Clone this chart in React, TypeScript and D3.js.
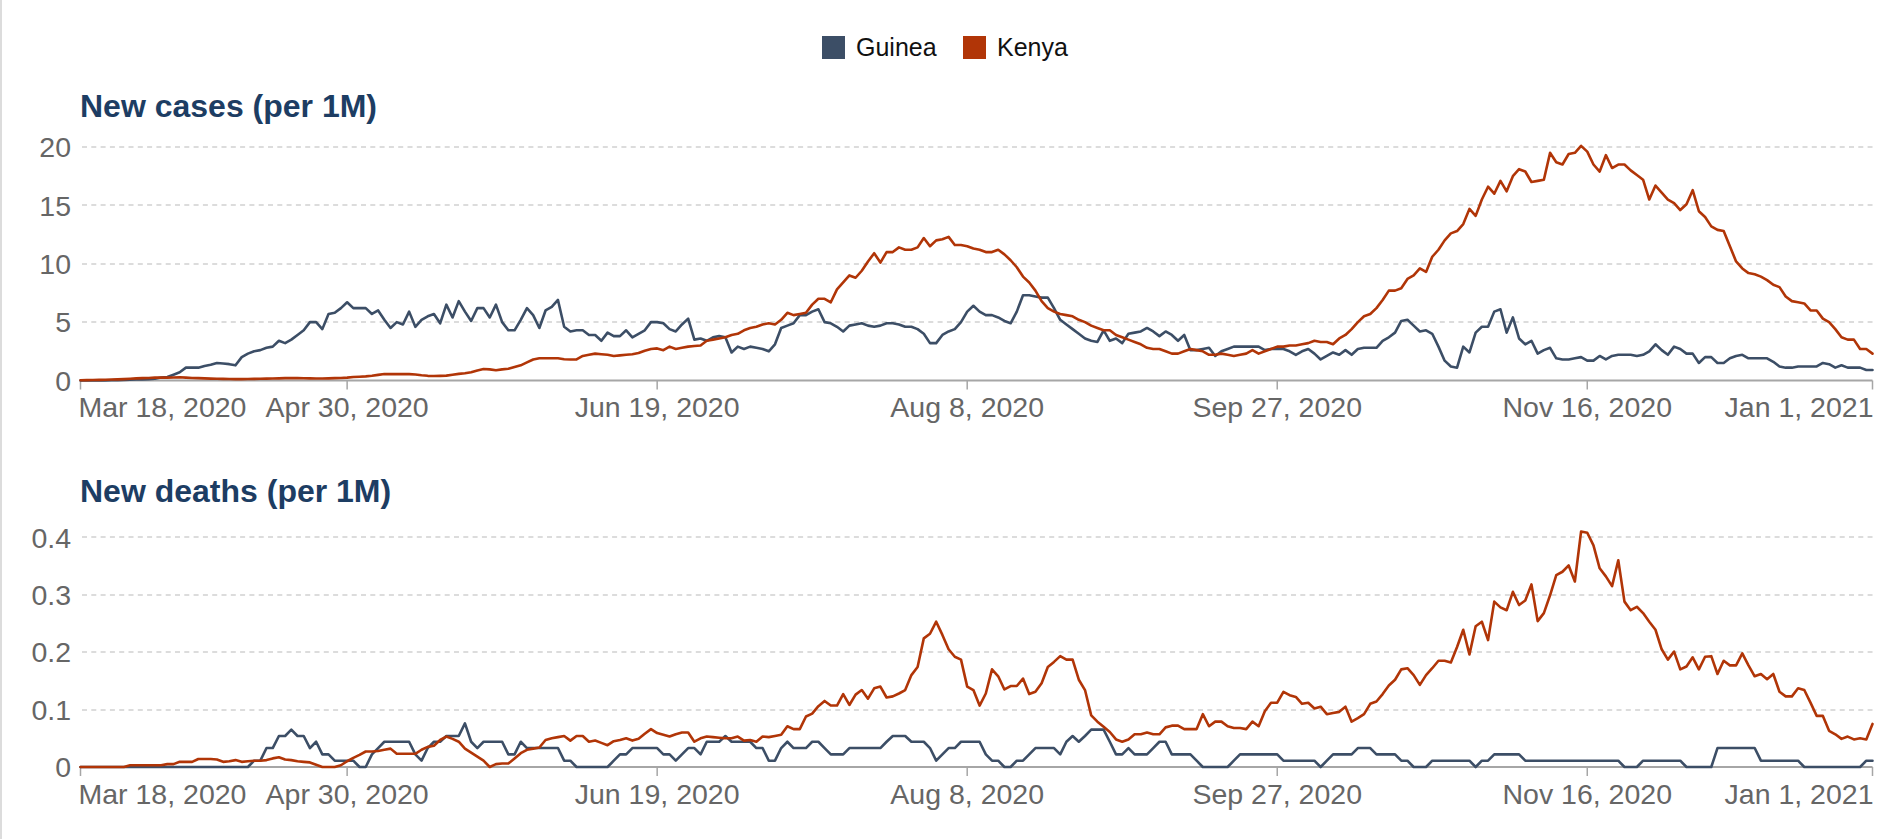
import React from "react";
import * as d3 from "d3";

// ---------- DATA ----------
const startDate = new Date(2020, 2, 18); // Mar 18, 2020 (one value per day)
const endDate = new Date(2021, 0, 1);

const seriesNames = ["Guinea", "Kenya"];
const seriesColors = ["#3c4e66", "#b13507"];

const guineaCases = [
  0, 0, 0, 0, 0, 0.02, 0.03, 0.05, 0.06, 0.08,
  0.1, 0.12, 0.15, 0.25, 0.3, 0.5, 0.7, 1.1, 1.1, 1.1,
  1.25, 1.35, 1.5, 1.45, 1.4, 1.3, 2.0, 2.3, 2.5, 2.6,
  2.8, 2.9, 3.4, 3.2, 3.5, 3.9, 4.3, 5.0, 5.0, 4.4,
  5.7, 5.8, 6.2, 6.7, 6.2, 6.2, 6.2, 5.7, 6.0, 5.2,
  4.5, 5.0, 4.8, 5.9, 4.6, 5.2, 5.5, 5.7, 4.9, 6.5,
  5.4, 6.8, 5.9, 5.1, 6.2, 6.2, 5.4, 6.5, 5.0, 4.3,
  4.3, 5.2, 6.2, 5.6, 4.5, 6.0, 6.3, 6.9, 4.6, 4.2,
  4.3, 4.3, 3.9, 3.9, 3.4, 4.1, 3.8, 3.8, 4.3, 3.7,
  4.0, 4.3, 5.0, 5.0, 4.9, 4.4, 4.2, 4.8, 5.3, 3.5,
  3.6, 3.4, 3.7, 3.8, 3.7, 2.4, 2.9, 2.7, 2.9, 2.8,
  2.7, 2.5, 3.1, 4.5, 4.7, 4.9, 5.6, 5.6, 5.9, 6.1,
  5.0, 4.9, 4.6, 4.2, 4.7, 4.8, 4.9, 4.7, 4.6, 4.7,
  4.9, 4.9, 4.8, 4.6, 4.6, 4.4, 4.0, 3.2, 3.2, 3.9,
  4.2, 4.4, 5.0, 5.9, 6.4, 5.9, 5.6, 5.6, 5.4, 5.1,
  4.9, 5.9, 7.3, 7.3, 7.2, 7.1, 7.1, 6.2, 5.2, 4.8,
  4.4, 4.0, 3.6, 3.4, 3.3, 4.3, 3.4, 3.6, 3.2, 4.0,
  4.1, 4.2, 4.5, 4.2, 3.8, 4.2, 3.9, 3.4, 3.9, 2.6,
  2.6, 2.7, 2.8, 2.1, 2.5, 2.7, 2.9, 2.9, 2.9, 2.9,
  2.9, 2.6, 2.7, 2.7, 2.7, 2.5, 2.2, 2.5, 2.7, 2.3,
  1.8, 2.1, 2.4, 2.2, 2.6, 2.2, 2.7, 2.8, 2.8, 2.8,
  3.4, 3.7, 4.1, 5.1, 5.2, 4.7, 4.2, 4.3, 4.0, 2.9,
  1.7, 1.2, 1.1, 2.9, 2.4, 4.1, 4.6, 4.6, 5.9, 6.1,
  4.1, 5.4, 3.6, 3.1, 3.4, 2.3, 2.6, 2.8, 1.9, 1.8,
  1.8, 1.9, 2.0, 1.7, 1.7, 2.1, 1.8, 2.1, 2.2, 2.2,
  2.2, 2.1, 2.2, 2.5, 3.1, 2.6, 2.2, 2.9, 2.7, 2.3,
  2.3, 1.5, 2.0, 2.0, 1.5, 1.5, 1.9, 2.1, 2.2, 1.9,
  1.9, 1.9, 1.9, 1.6, 1.2, 1.1, 1.1, 1.2, 1.2, 1.2,
  1.2, 1.5, 1.4, 1.1, 1.3, 1.1, 1.1, 1.1, 0.9, 0.9,
];

const kenyaCases = [
  0.02, 0.03, 0.04, 0.05, 0.06, 0.08, 0.1, 0.12, 0.15, 0.18,
  0.2, 0.22, 0.25, 0.25, 0.25, 0.26, 0.28, 0.25, 0.22, 0.2,
  0.18, 0.16, 0.15, 0.14, 0.13, 0.12, 0.12, 0.13, 0.14, 0.15,
  0.16, 0.17, 0.18, 0.2, 0.2, 0.2, 0.19, 0.18, 0.17, 0.17,
  0.18, 0.2, 0.22, 0.25, 0.3, 0.32, 0.35, 0.4, 0.48, 0.55,
  0.55, 0.55, 0.55, 0.55, 0.52, 0.45, 0.4, 0.38, 0.4, 0.42,
  0.5, 0.57, 0.62, 0.7, 0.85, 0.98, 0.95, 0.88, 0.95, 1.0,
  1.15, 1.3, 1.55, 1.8, 1.9, 1.9, 1.9, 1.9, 1.82, 1.8,
  1.8, 2.1, 2.2, 2.3, 2.25, 2.2, 2.1, 2.15, 2.2, 2.25,
  2.35, 2.55, 2.7, 2.75, 2.6, 2.9, 2.7, 2.8, 2.9, 2.95,
  3.0, 3.4, 3.5, 3.6, 3.7, 3.9, 4.0, 4.3, 4.5, 4.6,
  4.8, 4.9, 4.8, 5.2, 5.8, 5.6, 5.7, 5.8, 6.5, 7.0,
  7.0, 6.7, 7.8, 8.4, 9.0, 8.8, 9.4, 10.2, 10.9, 10.1,
  11.0, 11.0, 11.4, 11.2, 11.2, 11.4, 12.2, 11.5, 12.0, 12.1,
  12.3, 11.6, 11.6, 11.5, 11.3, 11.2, 11.0, 11.0, 11.2, 10.8,
  10.3, 9.7, 8.9, 8.4, 7.7, 6.8, 6.2, 5.9, 5.7, 5.6,
  5.5, 5.2, 5.0, 4.7, 4.5, 4.3, 4.3, 3.9, 3.7, 3.5,
  3.3, 3.1, 2.8, 2.7, 2.7, 2.5, 2.3, 2.3, 2.5, 2.7,
  2.6, 2.5, 2.2, 2.2, 2.3, 2.2, 2.1, 2.2, 2.3, 2.6,
  2.3, 2.5, 2.7, 2.9, 2.9, 3.0, 3.0, 3.1, 3.2, 3.4,
  3.3, 3.3, 3.1, 3.6, 3.9, 4.4, 5.0, 5.5, 5.7, 6.2,
  6.9, 7.7, 7.7, 7.9, 8.7, 9.0, 9.6, 9.3, 10.6, 11.2,
  12.0, 12.6, 12.8, 13.4, 14.7, 14.1, 15.5, 16.6, 16.0, 17.1,
  16.2, 17.5, 18.1, 17.9, 17.0, 17.1, 17.2, 19.5, 18.7, 18.5,
  19.4, 19.5, 20.1, 19.6, 18.5, 17.9, 19.3, 18.2, 18.5, 18.5,
  18.0, 17.6, 17.2, 15.5, 16.7, 16.1, 15.5, 15.2, 14.6, 15.1,
  16.3, 14.5, 14.0, 13.2, 12.9, 12.8, 11.5, 10.2, 9.6, 9.2,
  9.1, 8.9, 8.6, 8.2, 8.0, 7.2, 6.8, 6.7, 6.6, 6.0,
  6.0, 5.3, 5.0, 4.4, 3.7, 3.5, 3.5, 2.7, 2.7, 2.3,
];

const guineaDeaths = [
  0, 0, 0, 0, 0, 0, 0, 0, 0, 0,
  0, 0, 0, 0, 0, 0, 0, 0, 0, 0,
  0, 0, 0, 0, 0, 0, 0, 0, 0.011, 0.011,
  0.033, 0.033, 0.054, 0.054, 0.065, 0.054, 0.054, 0.033, 0.044, 0.022,
  0.022, 0.011, 0.011, 0.011, 0.011, 0, 0, 0.022, 0.033, 0.044,
  0.044, 0.044, 0.044, 0.044, 0.022, 0.011, 0.033, 0.044, 0.044, 0.054,
  0.054, 0.054, 0.076, 0.044, 0.033, 0.044, 0.044, 0.044, 0.044, 0.022,
  0.022, 0.044, 0.033, 0.033, 0.033, 0.033, 0.033, 0.033, 0.011, 0.011,
  0, 0, 0, 0, 0, 0, 0.011, 0.022, 0.022, 0.033,
  0.033, 0.033, 0.033, 0.033, 0.022, 0.022, 0.011, 0.022, 0.033, 0.033,
  0.022, 0.044, 0.044, 0.044, 0.054, 0.044, 0.044, 0.044, 0.044, 0.033,
  0.033, 0.011, 0.011, 0.033, 0.044, 0.033, 0.033, 0.033, 0.044, 0.044,
  0.033, 0.022, 0.022, 0.022, 0.033, 0.033, 0.033, 0.033, 0.033, 0.033,
  0.044, 0.054, 0.054, 0.054, 0.044, 0.044, 0.044, 0.033, 0.011, 0.022,
  0.033, 0.033, 0.044, 0.044, 0.044, 0.044, 0.022, 0.011, 0.011, 0,
  0, 0.011, 0.011, 0.022, 0.033, 0.033, 0.033, 0.033, 0.022, 0.044,
  0.054, 0.044, 0.054, 0.065, 0.065, 0.065, 0.044, 0.022, 0.022, 0.033,
  0.022, 0.022, 0.022, 0.033, 0.044, 0.044, 0.022, 0.022, 0.022, 0.022,
  0.011, 0, 0, 0, 0, 0, 0.011, 0.022, 0.022, 0.022,
  0.022, 0.022, 0.022, 0.022, 0.011, 0.011, 0.011, 0.011, 0.011, 0.011,
  0, 0.011, 0.022, 0.022, 0.022, 0.022, 0.033, 0.033, 0.033, 0.022,
  0.022, 0.022, 0.022, 0.011, 0.011, 0, 0, 0, 0.011, 0.011,
  0.011, 0.011, 0.011, 0.011, 0.011, 0, 0.011, 0.011, 0.022, 0.022,
  0.022, 0.022, 0.022, 0.011, 0.011, 0.011, 0.011, 0.011, 0.011, 0.011,
  0.011, 0.011, 0.011, 0.011, 0.011, 0.011, 0.011, 0.011, 0.011, 0,
  0, 0, 0.011, 0.011, 0.011, 0.011, 0.011, 0.011, 0.011, 0,
  0, 0, 0, 0, 0.033, 0.033, 0.033, 0.033, 0.033, 0.033,
  0.033, 0.011, 0.011, 0.011, 0.011, 0.011, 0.011, 0.011, 0, 0,
  0, 0, 0, 0, 0, 0, 0, 0, 0.011, 0.011,
];

const kenyaDeaths = [
  0, 0, 0, 0, 0, 0, 0, 0, 0.003, 0.003,
  0.003, 0.003, 0.003, 0.003, 0.005, 0.005, 0.009, 0.009, 0.009, 0.014,
  0.014, 0.014, 0.013, 0.009, 0.01, 0.012, 0.009, 0.01, 0.011, 0.011,
  0.012, 0.015, 0.017, 0.013, 0.012, 0.01, 0.009, 0.008, 0.004, 0,
  0, 0, 0.003, 0.01, 0.016, 0.021, 0.027, 0.027, 0.028, 0.03,
  0.032, 0.023, 0.023, 0.023, 0.023, 0.03, 0.035, 0.037, 0.047, 0.053,
  0.049, 0.044, 0.032, 0.025, 0.018, 0.011, 0, 0.005, 0.006, 0.006,
  0.015, 0.024, 0.03, 0.032, 0.034, 0.047, 0.05, 0.052, 0.054, 0.046,
  0.054, 0.054, 0.044, 0.046, 0.042, 0.038, 0.045, 0.047, 0.05, 0.046,
  0.049, 0.058, 0.066, 0.059, 0.056, 0.053, 0.057, 0.06, 0.06, 0.044,
  0.05, 0.053, 0.052, 0.051, 0.05, 0.05, 0.053, 0.046, 0.047, 0.044,
  0.053, 0.052, 0.054, 0.056, 0.071, 0.066, 0.066, 0.088, 0.093, 0.106,
  0.115, 0.107, 0.107, 0.127, 0.108, 0.126, 0.134, 0.119, 0.137, 0.14,
  0.121, 0.123, 0.128, 0.134, 0.16, 0.174, 0.224, 0.232, 0.253, 0.23,
  0.205, 0.192, 0.187, 0.14, 0.134, 0.107, 0.128, 0.17, 0.158, 0.135,
  0.141, 0.141, 0.154, 0.127, 0.131, 0.146, 0.174, 0.183, 0.193, 0.187,
  0.187, 0.152, 0.134, 0.09, 0.079, 0.07, 0.061, 0.048, 0.044, 0.048,
  0.057, 0.057, 0.06, 0.057, 0.057, 0.069, 0.072, 0.072, 0.066, 0.066,
  0.066, 0.092, 0.071, 0.079, 0.079, 0.071, 0.068, 0.068, 0.066, 0.079,
  0.071, 0.097, 0.112, 0.112, 0.131, 0.125, 0.122, 0.11, 0.112, 0.102,
  0.105, 0.092, 0.094, 0.096, 0.105, 0.079, 0.085, 0.092, 0.11, 0.114,
  0.127, 0.142, 0.152, 0.17, 0.172, 0.16, 0.143, 0.16, 0.172, 0.185,
  0.185, 0.182, 0.209, 0.239, 0.196, 0.245, 0.253, 0.221, 0.288, 0.278,
  0.273, 0.305, 0.282, 0.29, 0.318, 0.254, 0.268, 0.299, 0.334, 0.34,
  0.351, 0.323, 0.41, 0.408, 0.386, 0.346, 0.332, 0.315, 0.36, 0.288,
  0.273, 0.279, 0.268, 0.253, 0.239, 0.205, 0.187, 0.201, 0.17, 0.175,
  0.191, 0.17, 0.192, 0.193, 0.162, 0.185, 0.177, 0.177, 0.198, 0.177,
  0.158, 0.162, 0.153, 0.162, 0.131, 0.123, 0.123, 0.137, 0.134, 0.112,
  0.089, 0.089, 0.063, 0.057, 0.049, 0.053, 0.048, 0.05, 0.048, 0.075,
];

const tickDates = [
  new Date(2020, 2, 18),
  new Date(2020, 3, 30),
  new Date(2020, 5, 19),
  new Date(2020, 7, 8),
  new Date(2020, 8, 27),
  new Date(2020, 10, 16),
  new Date(2021, 0, 1),
];
const tickLabels = [
  "Mar 18, 2020",
  "Apr 30, 2020",
  "Jun 19, 2020",
  "Aug 8, 2020",
  "Sep 27, 2020",
  "Nov 16, 2020",
  "Jan 1, 2021",
];
const casesTicks = [0, 5, 10, 15, 20];
const deathsTicks = [0, 0.1, 0.2, 0.3, 0.4];

// ---------- LAYOUT ----------
const W = 1904;
const H = 839;
const FONT = "'Liberation Sans', Arial, Helvetica, sans-serif";
const X0 = 80.5;
const X1 = 1872.5;

const xScale = d3.scaleTime().domain([startDate, endDate]).range([X0, X1]);

type PanelProps = {
  title: string;
  titleY: number;
  series: number[][];
  ticks: number[];
  yDomain: [number, number];
  yRange: [number, number];
};

function Panel({ title, titleY, series, ticks, yDomain, yRange }: PanelProps) {
  const y = d3.scaleLinear().domain(yDomain).range(yRange);
  const line = d3
    .line<number>()
    .x((_, i) => xScale(d3.timeDay.offset(startDate, i)))
    .y((v) => y(v));
  const base = y(0);
  return (
    <g>
      <text
        x={80}
        y={titleY}
        fontFamily={FONT}
        fontWeight="bold"
        fontSize={32}
        fill="#1d3d63"
      >
        {title}
      </text>
      {ticks.map((t) => (
        <g key={t}>
          {t !== 0 && (
            <line
              x1={82}
              x2={X1}
              y1={Math.round(y(t))}
              y2={Math.round(y(t))}
              stroke="#dcdcdc"
              strokeWidth={2}
              strokeDasharray="5,4.3"
            />
          )}
          <text
            x={71}
            y={y(t)}
            dy="0.36em"
            textAnchor="end"
            fontFamily={FONT}
            fontSize={28.5}
            fill="#666"
          >
            {String(t)}
          </text>
        </g>
      ))}
      <line x1={X0} x2={X1} y1={base} y2={base} stroke="#a6a6a6" strokeWidth={2} />
      {tickDates.map((d, i) => {
        const tx = xScale(d);
        const anchor = i === 0 ? "start" : i === tickDates.length - 1 ? "end" : "middle";
        const lx = i === 0 ? tx - 2 : i === tickDates.length - 1 ? tx + 1 : tx;
        return (
          <g key={i}>
            <line x1={tx} x2={tx} y1={base} y2={base + 9} stroke="#a6a6a6" strokeWidth={1.5} />
            <text
              x={lx}
              y={base + 36.5}
              textAnchor={anchor}
              fontFamily={FONT}
              fontSize={28.5}
              fill="#666"
            >
              {tickLabels[i]}
            </text>
          </g>
        );
      })}
      {series.map((s, k) => (
        <path
          key={k}
          d={line(s) || ""}
          fill="none"
          stroke={seriesColors[k]}
          strokeWidth={2.6}
          strokeLinejoin="round"
          strokeLinecap="round"
        />
      ))}
    </g>
  );
}

export default function App() {
  const legendX = [822, 963];
  return (
    <div style={{ position: "absolute", left: 0, top: 0, width: W, height: H, background: "#fff" }}>
      <svg width={W} height={H} style={{ display: "block" }}>
        <rect x={0} y={0} width={W} height={H} fill="#fff" />
        <line x1={1} x2={1} y1={0} y2={H} stroke="#d0d0d0" strokeWidth={1.5} />
        {seriesNames.map((n, i) => (
          <g key={n}>
            <rect x={legendX[i]} y={36} width={23} height={23} fill={seriesColors[i]} />
            <text
              x={legendX[i] + 34}
              y={56}
              fontFamily={FONT}
              fontSize={25}
              fill="#111"
            >
              {n}
            </text>
          </g>
        ))}
        <Panel
          title="New cases (per 1M)"
          titleY={116.7}
          series={[guineaCases, kenyaCases]}
          ticks={casesTicks}
          yDomain={[0, 20]}
          yRange={[380.5, 147]}
        />
        <Panel
          title="New deaths (per 1M)"
          titleY={501.7}
          series={[guineaDeaths, kenyaDeaths]}
          ticks={deathsTicks}
          yDomain={[0, 0.4]}
          yRange={[767, 537.3]}
        />
      </svg>
    </div>
  );
}
